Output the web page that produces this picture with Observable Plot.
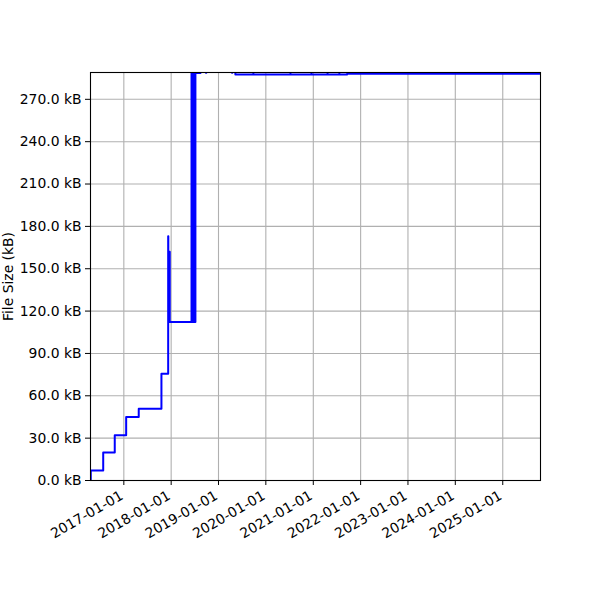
<!DOCTYPE html>
<html>
<head>
<meta charset="utf-8">
<script src="https://cdn.jsdelivr.net/npm/d3@7"></script>
<script src="https://cdn.jsdelivr.net/npm/@observablehq/plot@0.6"></script>
<style>
  html, body { margin: 0; padding: 0; background: white; }
</style>
</head>
<body>
<div id="chart"></div>
<script>
// Commit dates and file sizes (kB)
const dates = [
  "2016-04-19", "2016-04-21", "2016-07-26", "2016-10-23", "2017-01-19",
  "2017-04-26", "2017-10-18", "2017-12-09", "2017-12-10", "2017-12-20",
  "2017-12-21", "2018-06-07", "2018-06-11", "2018-06-15", "2018-06-19",
  "2018-06-23", "2018-06-27", "2018-07-01", "2018-07-04", "2018-07-07",
  "2018-08-15", "2018-09-26", "2018-09-29", "2019-04-15", "2019-04-18",
  "2019-05-11", "2019-09-26", "2019-09-28", "2020-07-08", "2020-07-10",
  "2020-12-17", "2020-12-19", "2021-04-20", "2021-04-22", "2021-07-20",
  "2021-07-22", "2021-09-19", "2025-10-19"
];
const sizes = [
  0, 7.1, 19.8, 32.1, 44.9,
  50.8, 75.6, 173, 112.2, 162,
  112.2, 300, 112.2, 300, 112.2,
  300, 112.2, 300, 112.2, 288.6,
  295, 288.8, 295, 288.8, 295,
  287.5, 288.1, 287.5, 288.1, 287.5,
  288.1, 287.5, 288.1, 287.5, 288.1,
  287.5, 288.2, 288.2
];
const yTicks = [0, 30, 60, 90, 120, 150, 180, 210, 240, 270];
const xTickLabels = ["2017-01-01", "2018-01-01", "2019-01-01", "2020-01-01", "2021-01-01",
  "2022-01-01", "2023-01-01", "2024-01-01", "2025-01-01"];
const xDomain = ["2016-04-19", "2025-10-19"];
const yDomain = [0, 289];

const parse = d3.utcParse("%Y-%m-%d");
const data = dates.map((d, i) => ({date: parse(d), size: sizes[i]}));
const xTicks = xTickLabels.map(parse);

const chart = Plot.plot({
  width: 600,
  height: 600,
  marginLeft: 90,
  marginRight: 60,
  marginTop: 72,
  marginBottom: 120,
  style: {fontFamily: "DejaVu Sans", fontSize: "13.9px", background: "white", color: "black"},
  x: {type: "utc", domain: xDomain.map(parse)},
  y: {domain: yDomain},
  marks: [
    Plot.gridX(xTicks, {stroke: "#b0b0b0", strokeOpacity: 1, strokeWidth: 1.1}),
    Plot.gridY(yTicks, {stroke: "#b0b0b0", strokeOpacity: 1, strokeWidth: 1.1}),
    Plot.line(data, {x: "date", y: "size", curve: "step-after", stroke: "blue", strokeWidth: 2, clip: true}),
    Plot.frame({stroke: "black", strokeWidth: 1.1}),
    Plot.axisY(yTicks, {
      tickSize: 5, tickPadding: 4,
      tickFormat: d => d.toFixed(1) + " kB",
      label: "File Size (kB)", labelAnchor: "center", labelArrow: "none", labelOffset: 87
    }),
    Plot.axisX(xTicks, {tickSize: 5, tickFormat: () => "", label: null}),
    Plot.axisX(xTicks, {
      tickSize: 0, tickPadding: 14, tickRotate: -30, dx: -2,
      tickFormat: d3.utcFormat("%Y-%m-%d"),
      label: null
    })
  ]
});
document.getElementById("chart").appendChild(chart);
</script>
</body>
</html>
